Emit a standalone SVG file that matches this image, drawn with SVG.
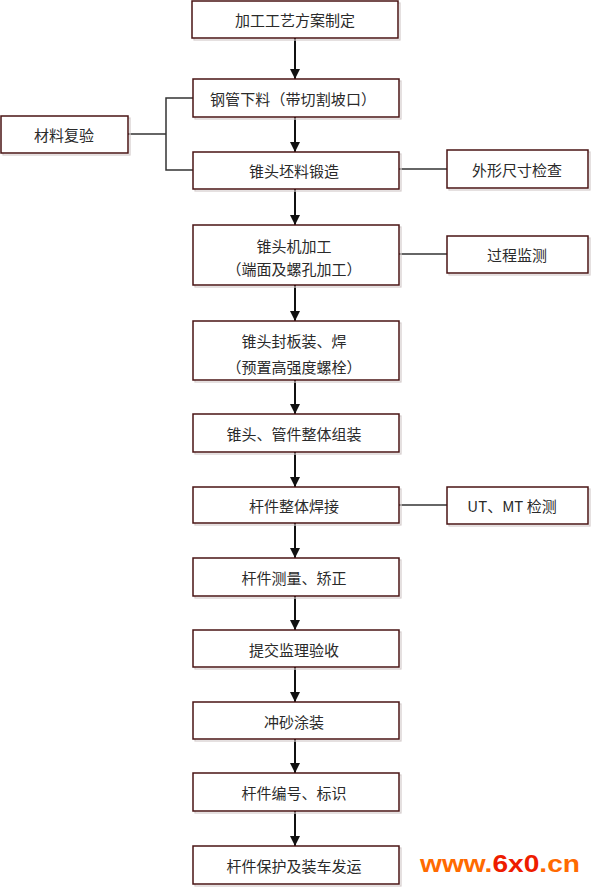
<svg xmlns="http://www.w3.org/2000/svg" width="593" height="887" viewBox="0 0 593 887">
<style>
.sh{fill:none;stroke:#d4cccc;stroke-width:1.2}
.bx{fill:#fff;stroke:#4a1414;stroke-width:1.5}
.t{font-family:"Noto Sans CJK SC","Noto Sans CJK JP",sans-serif;font-size:15px;fill:#2a2a2a;text-anchor:middle;dominant-baseline:central}
.ln{fill:none;stroke:#111;stroke-width:2}
.sl{fill:none;stroke:#333;stroke-width:1.5}
</style>
<defs>
<marker id="ah" markerWidth="10" markerHeight="10" viewBox="0 0 10 10" refX="10" refY="5" orient="auto" markerUnits="userSpaceOnUse">
<path d="M0,0 L10,5 L0,10 Z" fill="#111"/>
</marker>
</defs>
<rect width="593" height="887" fill="#fff"/>
<g id="connectors">
<line class="ln" x1="295" y1="38" x2="295" y2="79" marker-end="url(#ah)"/>
<line class="ln" x1="295" y1="117" x2="295" y2="152" marker-end="url(#ah)"/>
<line class="ln" x1="295" y1="189" x2="295" y2="225" marker-end="url(#ah)"/>
<line class="ln" x1="295" y1="285" x2="295" y2="321" marker-end="url(#ah)"/>
<line class="ln" x1="295" y1="380" x2="295" y2="414" marker-end="url(#ah)"/>
<line class="ln" x1="295" y1="452" x2="295" y2="487" marker-end="url(#ah)"/>
<line class="ln" x1="295" y1="523" x2="295" y2="558" marker-end="url(#ah)"/>
<line class="ln" x1="295" y1="596" x2="295" y2="630" marker-end="url(#ah)"/>
<line class="ln" x1="295" y1="667" x2="295" y2="702" marker-end="url(#ah)"/>
<line class="ln" x1="295" y1="739" x2="295" y2="773" marker-end="url(#ah)"/>
<line class="ln" x1="295" y1="811" x2="295" y2="846" marker-end="url(#ah)"/>
<polyline class="sl" points="193,98 166,98 166,170 193,170"/>
<line class="sl" x1="128" y1="134" x2="166" y2="134"/>
<line class="sl" x1="399" y1="169" x2="447" y2="169"/>
<line class="sl" x1="399" y1="254" x2="447" y2="254"/>
<line class="sl" x1="399" y1="505" x2="447" y2="505"/>
</g>
<g id="n1"><rect class="sh" x="194" y="3" width="206" height="37"/><rect class="bx" x="192" y="1" width="206" height="37"/><text class="t" x="295" y="19.5">加工工艺方案制定</text></g>
<g id="n2"><rect class="sh" x="195" y="81" width="206" height="38"/><rect class="bx" x="193" y="79" width="206" height="38"/><text class="t" x="293" y="98" textLength="166" lengthAdjust="spacing">钢管下料（带切割坡口）</text></g>
<g id="n3"><rect class="sh" x="195" y="154" width="206" height="37"/><rect class="bx" x="193" y="152" width="206" height="37"/><text class="t" x="294" y="170">锥头坯料锻造</text></g>
<g id="n4"><rect class="sh" x="195" y="227" width="206" height="60"/><rect class="bx" x="193" y="225" width="206" height="60"/><text class="t" x="294" y="245">锥头机加工</text><text class="t" x="294" y="268">（端面及螺孔加工）</text></g>
<g id="n5"><rect class="sh" x="195" y="323" width="206" height="59"/><rect class="bx" x="193" y="321" width="206" height="59"/><text class="t" x="294" y="340">锥头封板装、焊</text><text class="t" x="294" y="366">（预置高强度螺栓）</text></g>
<g id="n6"><rect class="sh" x="195" y="416" width="206" height="38"/><rect class="bx" x="193" y="414" width="206" height="38"/><text class="t" x="294" y="433">锥头、管件整体组装</text></g>
<g id="n7"><rect class="sh" x="195" y="489" width="206" height="36"/><rect class="bx" x="193" y="487" width="206" height="36"/><text class="t" x="294" y="505">杆件整体焊接</text></g>
<g id="n8"><rect class="sh" x="195" y="560" width="206" height="38"/><rect class="bx" x="193" y="558" width="206" height="38"/><text class="t" x="294" y="577">杆件测量、矫正</text></g>
<g id="n9"><rect class="sh" x="195" y="632" width="206" height="37"/><rect class="bx" x="193" y="630" width="206" height="37"/><text class="t" x="294" y="649">提交监理验收</text></g>
<g id="n10"><rect class="sh" x="195" y="704" width="206" height="37"/><rect class="bx" x="193" y="702" width="206" height="37"/><text class="t" x="294" y="721">冲砂涂装</text></g>
<g id="n11"><rect class="sh" x="195" y="775" width="206" height="38"/><rect class="bx" x="193" y="773" width="206" height="38"/><text class="t" x="294" y="792">杆件编号、标识</text></g>
<g id="n12"><rect class="sh" x="195" y="848" width="206" height="38"/><rect class="bx" x="193" y="846" width="206" height="38"/><text class="t" x="294" y="865">杆件保护及装车发运</text></g>
<g id="s1"><rect class="sh" x="3" y="118" width="127" height="37"/><rect class="bx" x="1" y="116" width="127" height="37"/><text class="t" x="64" y="134.5">材料复验</text></g>
<g id="s2"><rect class="sh" x="449" y="152" width="141" height="38"/><rect class="bx" x="447" y="150" width="141" height="38"/><text class="t" x="517" y="169">外形尺寸检查</text></g>
<g id="s3"><rect class="sh" x="449" y="238" width="141" height="37"/><rect class="bx" x="447" y="236" width="141" height="37"/><text class="t" x="517" y="254.5">过程监测</text></g>
<g id="s4"><rect class="sh" x="449" y="489" width="141" height="37"/><rect class="bx" x="447" y="487" width="141" height="37"/><text class="t" x="512" y="505.5">UT、MT 检测</text></g>
<text x="420" y="872" textLength="160" lengthAdjust="spacingAndGlyphs" font-family="Liberation Sans, Arial, sans-serif" font-weight="bold" font-size="23" fill="#ff6a00">www.<tspan fill="#ee1c00">6x0</tspan>.cn</text>
</svg>
